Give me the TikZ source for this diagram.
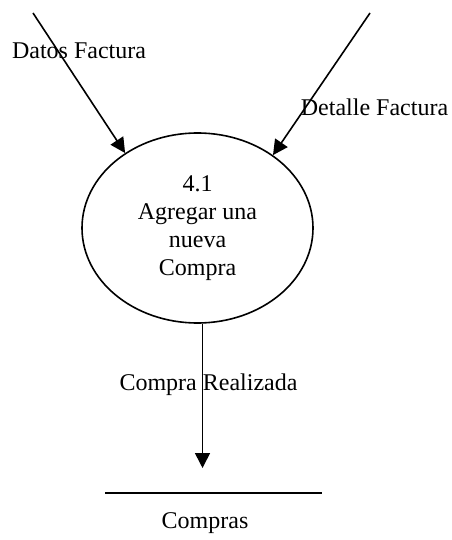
\documentclass[tikz,border=0pt]{standalone}
\usepackage{fontspec}
\setmainfont{Liberation Serif}
\usetikzlibrary{arrows.meta,shapes.geometric}

\begin{document}
\begin{tikzpicture}[x=0.5pt,y=-0.5pt,line width=0.8pt,
  flujo/.style={-{Triangle[length=7.5pt,width=7.5pt]}},
  proceso/.style={draw,ellipse,inner sep=0pt,minimum width=115.5pt,minimum height=95pt,align=center,font=\fontsize{12}{14}\selectfont},
  etiqueta/.style={anchor=base,inner sep=0pt,font=\fontsize{12}{14}\selectfont}]
\useasboundingbox (0,0) rectangle (451,540);
% proceso
\node[proceso] (proc) at (197.5,228) {4.1\\Agregar una\\nueva\\Compra};
% entradas
\coordinate (datosIn) at (33,13);
\coordinate (detalleIn) at (370,13);
\draw[flujo] (datosIn) -- (proc.134);
\draw[flujo] (detalleIn) -- (proc.44);
\node[etiqueta] (datos) at (79,59) {Datos Factura};
\node[etiqueta] (detalle) at (374.5,115) {Detalle Factura};
% almacen
\coordinate (storeL) at (105,493);
\coordinate (storeR) at (322,493);
\coordinate (storeIn) at (202,468);
\draw (storeL) -- (storeR);
\node[etiqueta] (compras) at (205,528) {Compras};
\draw[flujo] (proc.273) -- (proc.273 |- storeIn);
\node[etiqueta] (realizada) at (208.5,390) {Compra Realizada};
\end{tikzpicture}
\end{document}
